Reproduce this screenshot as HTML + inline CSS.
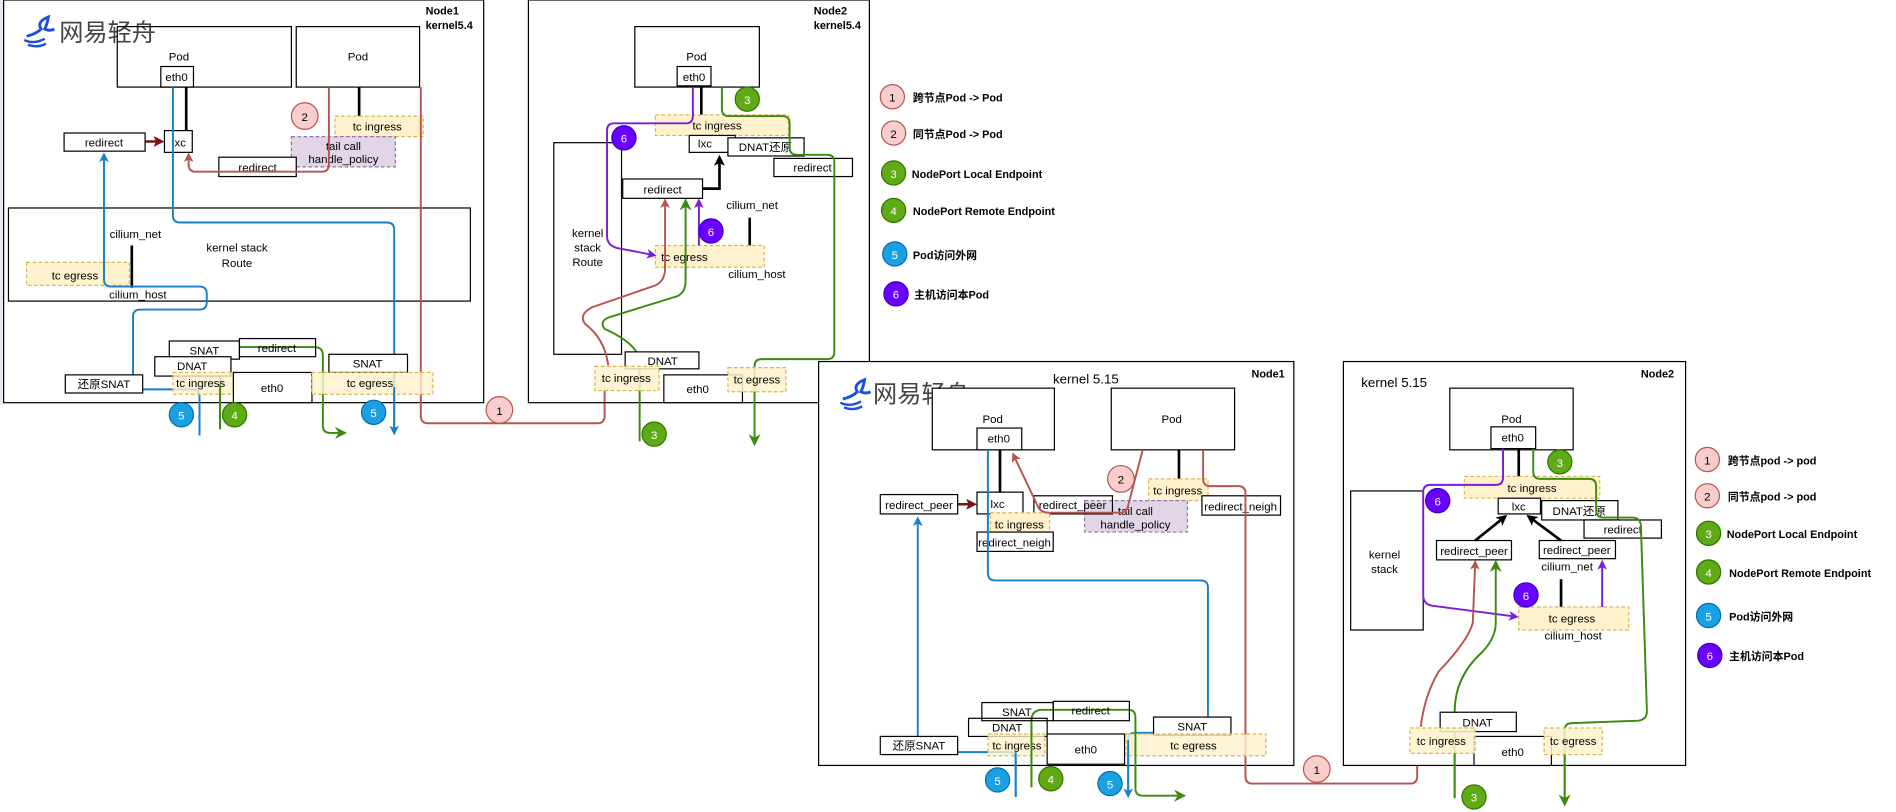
<!DOCTYPE html>
<html><head><meta charset="utf-8"><style>
html,body{margin:0;padding:0;background:#fff;}
svg{display:block;}
text{font-family:"Liberation Sans","Noto Sans CJK SC",sans-serif;fill:#000;}
.b{fill:#fff;stroke:#000;stroke-width:1;}
.nb{fill:none;stroke:#000;stroke-width:1;}
.y{fill:#fff2cc;stroke:#d6b656;stroke-width:1;stroke-dasharray:3 2;}
.p{fill:#e1d5e7;stroke:#9673a6;stroke-width:1;stroke-dasharray:3 2;}
.t{font-size:9.5px;text-anchor:middle;}
.lg{font-size:9px;font-weight:bold;}
.red{fill:none;stroke:#b85450;stroke-width:1.6;}
.blu{fill:none;stroke:#1b7fc4;stroke-width:1.6;}
.grn{fill:none;stroke:#3d8b0e;stroke-width:1.6;}
.pur{fill:none;stroke:#7a1ed6;stroke-width:1.6;}
.blk{fill:none;stroke:#000;stroke-width:2.2;}
</style></head><body>
<svg width="1896" height="812" viewBox="0 0 1568 671.5" preserveAspectRatio="none" xmlns="http://www.w3.org/2000/svg">
<defs>
<marker id="ar" markerWidth="8" markerHeight="8" refX="6" refY="4" orient="auto" markerUnits="userSpaceOnUse"><path d="M0,0 L8,4 L0,8 L2,4z" fill="#b85450"/></marker>
<marker id="ab" markerWidth="8" markerHeight="8" refX="6" refY="4" orient="auto" markerUnits="userSpaceOnUse"><path d="M0,0 L8,4 L0,8 L2,4z" fill="#1b7fc4"/></marker>
<marker id="ag" markerWidth="10" markerHeight="10" refX="8" refY="5" orient="auto" markerUnits="userSpaceOnUse"><path d="M0,0 L10,5 L0,10 L3,5z" fill="#3d8b0e"/></marker>
<marker id="ap" markerWidth="8" markerHeight="8" refX="6" refY="4" orient="auto" markerUnits="userSpaceOnUse"><path d="M0,0 L8,4 L0,8 L2,4z" fill="#7a1ed6"/></marker>
<marker id="ak" markerWidth="9" markerHeight="9" refX="7" refY="4.5" orient="auto" markerUnits="userSpaceOnUse"><path d="M0,0 L9,4.5 L0,9 L2,4.5z" fill="#000"/></marker>
<marker id="adr" markerWidth="9" markerHeight="9" refX="7" refY="4.5" orient="auto" markerUnits="userSpaceOnUse"><path d="M0,0 L9,4.5 L0,9 L2,4.5z" fill="#7a1010"/></marker>
</defs>
<rect x="0" y="0" width="1568" height="671.5" fill="#fff"/>
<rect x="0" y="0" width="3" height="335" fill="#e6eaf0"/>

<!-- ===== TOP NODE1 ===== -->
<rect x="3" y="0" width="397" height="333" class="nb" stroke-width="1.3"/>
<text x="352" y="12" style="font-size:9px;font-weight:bold">Node1</text>
<text x="352" y="24" style="font-size:9px;font-weight:bold">kernel5.4</text>
<g>
<path d="M22,30 q8,-2 12,-6 q-4,-6 6,-10 q-1,6 -3,10 q4,2 8,0" fill="none" stroke="#1a4fe0" stroke-width="2.4"/>
<path d="M20,33 q8,4 17,-1 M23,37 q8,3 15,-1" fill="none" stroke="#1a4fe0" stroke-width="2"/>
<text x="49" y="34" style="font-size:20px;fill:#444">网易轻舟</text>
</g>
<rect x="97" y="22" width="144" height="50" class="b" fill-opacity="0"/>
<text x="148" y="50" class="t">Pod</text>
<rect x="133" y="55" width="27" height="17" class="b"/>
<text x="146" y="67" class="t">eth0</text>
<rect x="245" y="22" width="102" height="50" class="b" fill-opacity="0"/>
<text x="296" y="50" class="t">Pod</text>
<line x1="154" y1="72" x2="154" y2="108" class="blk"/>
<line x1="297" y1="72" x2="297" y2="97" class="blk"/>
<rect x="277" y="96" width="73" height="17" class="y"/>
<text x="312" y="108" class="t">tc ingress</text>
<rect x="241" y="113" width="86" height="25" class="p"/>
<text x="284" y="124" class="t">tail call</text>
<text x="284" y="135" class="t">handle_policy</text>
<rect x="136" y="108" width="23" height="18" class="b"/>
<text x="148" y="121" class="t">lxc</text>
<rect x="53" y="110" width="67" height="15" class="b"/>
<text x="86" y="121" class="t">redirect</text>
<line x1="120" y1="117" x2="134" y2="117" stroke="#7a1010" stroke-width="2" marker-end="url(#adr)"/>
<rect x="181" y="130" width="64" height="16" class="b"/>
<text x="213" y="142" class="t">redirect</text>
<path d="M272,72 L272,136 Q272,142 266,142 L162,142 Q156,142 156,136 L156,128" class="red" marker-end="url(#ar)"/>
<circle cx="252" cy="96" r="11" fill="#f8cecc" stroke="#b85450"/>
<text x="252" y="100" class="t">2</text>

<rect x="7" y="172" width="382" height="77" class="nb"/>
<text x="196" y="208" class="t">kernel stack</text>
<text x="196" y="221" class="t">Route</text>
<text x="112" y="197" class="t">cilium_net</text>
<line x1="109" y1="203" x2="109" y2="238" class="blk"/>
<rect x="22" y="217" width="85" height="19" class="y"/>
<text x="62" y="231" class="t">tc egress</text>
<text x="114" y="247" class="t">cilium_host</text>

<!-- blue -->
<path d="M143,72 L143,178 Q143,184 149,184 L320,184 Q326,184 326,190 L326,358" class="blu" marker-end="url(#ab)"/>
<path d="M86,360 L86,360" class="blu"/>
<path d="M165,360 L165,328 Q165,322 159,322 L116,322 Q110,322 110,316 L110,262 Q110,256 116,256 L165,256 Q171,256 171,250 L171,243 Q171,237 165,237 L92,237 Q86,237 86,231 L86,128" class="blu" marker-end="url(#ab)"/>
<!-- red 1 -->
<path d="M348,72 L348,344 Q348,350 354,350 L494,350 Q500,350 500,344 L500,322" class="red"/>
<!-- green 4 -->
<path d="M182,355 L182,300 Q182,287 195,287 L260,287 Q267,287 267,294 L267,352 Q267,358 273,358 L285,358" class="grn" marker-end="url(#ag)"/>

<rect x="140" y="282" width="58" height="15" class="b"/>
<text x="169" y="293" class="t">SNAT</text>
<rect x="198" y="280" width="63" height="15" class="b" fill-opacity="0"/>
<text x="229" y="291" class="t">redirect</text>
<rect x="128" y="295" width="63" height="16" class="b"/>
<text x="159" y="306" class="t">DNAT</text>
<rect x="272" y="293" width="65" height="15" class="b"/>
<text x="304" y="304" class="t">SNAT</text>
<rect x="54" y="310" width="64" height="15" class="b"/>
<text x="86" y="321" class="t">还原SNAT</text>
<rect x="143" y="308" width="50" height="18" class="y" fill-opacity="0.8"/>
<text x="166" y="320" class="t">tc ingress</text>
<rect x="193" y="308" width="65" height="25" class="b"/>
<text x="225" y="324" class="t">eth0</text>
<rect x="258" y="308" width="100" height="18" class="y" fill-opacity="0.8"/>
<text x="306" y="320" class="t">tc egress</text>
<path d="M165,330 L165,360" class="blu"/>
<path d="M326,320 L326,358" class="blu"/>
<path d="M182,318 L182,355" class="grn"/>
<circle cx="150" cy="343" r="10" fill="#1ba1e2" stroke="#006eaf"/><text x="150" y="347" class="t" style="fill:#fff">5</text>
<circle cx="194" cy="343" r="10" fill="#60a917" stroke="#2d7600"/><text x="194" y="347" class="t" style="fill:#fff">4</text>
<circle cx="309" cy="341" r="10" fill="#1ba1e2" stroke="#006eaf"/><text x="309" y="345" class="t" style="fill:#fff">5</text>
<circle cx="413" cy="339" r="11" fill="#f8cecc" stroke="#b85450"/><text x="413" y="343" class="t">1</text>

<!-- ===== TOP NODE2 ===== -->
<rect x="437" y="0" width="282" height="333" class="nb" stroke-width="1.3"/>
<text x="673" y="12" style="font-size:9px;font-weight:bold">Node2</text>
<text x="673" y="24" style="font-size:9px;font-weight:bold">kernel5.4</text>
<rect x="525" y="22" width="103" height="50" class="b"/>
<text x="576" y="50" class="t">Pod</text>
<rect x="560" y="55" width="28" height="16" class="b"/>
<text x="574" y="67" class="t">eth0</text>
<line x1="580" y1="72" x2="580" y2="96" class="blk"/>
<rect x="458" y="118" width="56" height="175" class="b"/>
<text x="486" y="196" class="t">kernel</text>
<text x="486" y="208" class="t">stack</text>
<text x="486" y="220" class="t">Route</text>
<rect x="542" y="95" width="110" height="17" class="y"/>
<text x="593" y="107" class="t">tc ingress</text>
<rect x="570" y="112" width="38" height="14" class="b"/>
<text x="583" y="122" class="t">lxc</text>
<rect x="602" y="114" width="63" height="15" class="b"/>
<text x="633" y="125" class="t">DNAT还原</text>
<rect x="640" y="131" width="65" height="15" class="b"/>
<text x="672" y="142" class="t">redirect</text>
<rect x="515" y="148" width="66" height="16" class="b"/>
<text x="548" y="160" class="t">redirect</text>
<path d="M581,156 L595,156 L595,130" class="blk" stroke-width="1.6" marker-end="url(#ak)"/>
<text x="622" y="173" class="t">cilium_net</text>
<line x1="620" y1="180" x2="620" y2="204" class="blk"/>
<rect x="542" y="203" width="90" height="18" class="y"/>
<text x="566" y="216" class="t">tc egress</text>
<text x="626" y="230" class="t">cilium_host</text>
<!-- purple -->
<path d="M573,72 L573,96 Q573,102 567,102 L508,102 Q502,102 502,108 L502,195 Q502,203 510,205 L541,211" class="pur" marker-end="url(#ap)"/>
<path d="M578,203 L578,166" class="pur" marker-end="url(#ap)"/>
<!-- red -->
<path d="M503,302 Q500,280 484,268 Q478,260 490,254 L542,236 Q550,232 550,222 L550,166" class="red" marker-end="url(#ar)"/>
<!-- green -->
<path d="M529,365 L529,300 Q529,285 500,272 Q495,265 505,262 L560,245 Q567,242 567,232 L567,166" class="grn" marker-end="url(#ag)"/>
<path d="M597,72 L597,90 Q597,96 603,96 L647,96 Q653,96 653,102 L653,122 Q653,128 659,128 L684,128 Q690,128 690,134 L690,291 Q690,297 684,297 L630,297 Q624,297 624,303 L624,367" class="grn" marker-end="url(#ag)"/>
<rect x="517" y="291" width="61" height="14" class="b"/>
<text x="548" y="302" class="t">DNAT</text>
<rect x="549" y="310" width="65" height="23" class="b"/>
<text x="577" y="325" class="t">eth0</text>
<rect x="492" y="303" width="53" height="20" class="y" fill-opacity="0.85"/>
<text x="518" y="316" class="t">tc ingress</text>
<rect x="602" y="304" width="48" height="20" class="y" fill-opacity="0.85"/>
<text x="626" y="317" class="t">tc egress</text>
<circle cx="618" cy="82" r="10" fill="#60a917" stroke="#2d7600"/><text x="618" y="86" class="t" style="fill:#fff">3</text>
<circle cx="516" cy="114" r="10" fill="#6a00ff" stroke="#3700cc"/><text x="516" y="118" class="t" style="fill:#fff">6</text>
<circle cx="588" cy="191" r="10" fill="#6a00ff" stroke="#3700cc"/><text x="588" y="195" class="t" style="fill:#fff">6</text>
<circle cx="541" cy="359" r="10" fill="#60a917" stroke="#2d7600"/><text x="541" y="363" class="t" style="fill:#fff">3</text>

<!-- legend top -->
<g>
<circle cx="738" cy="80" r="10" fill="#f8cecc" stroke="#b85450"/><text x="738" y="84" class="t">1</text>
<text x="755" y="84" class="lg">跨节点Pod -&gt; Pod</text>
<circle cx="739" cy="110" r="10" fill="#f8cecc" stroke="#b85450"/><text x="739" y="114" class="t">2</text>
<text x="755" y="114" class="lg">同节点Pod -&gt; Pod</text>
<circle cx="739" cy="143" r="10" fill="#60a917" stroke="#2d7600"/><text x="739" y="147" class="t" style="fill:#fff">3</text>
<text x="754" y="147" class="lg">NodePort Local Endpoint</text>
<circle cx="739" cy="174" r="10" fill="#60a917" stroke="#2d7600"/><text x="739" y="178" class="t" style="fill:#fff">4</text>
<text x="755" y="178" class="lg">NodePort Remote Endpoint</text>
<circle cx="740" cy="210" r="10" fill="#1ba1e2" stroke="#006eaf"/><text x="740" y="214" class="t" style="fill:#fff">5</text>
<text x="755" y="214" class="lg">Pod访问外网</text>
<circle cx="741" cy="243" r="10" fill="#6a00ff" stroke="#3700cc"/><text x="741" y="247" class="t" style="fill:#fff">6</text>
<text x="756" y="247" class="lg">主机访问本Pod</text>
</g>

<!-- ===== BOTTOM NODE1 (5.15) ===== -->
<rect x="677" y="299" width="393" height="334" class="b" stroke-width="1.3"/>
<g>
<path d="M697,330 q8,-2 12,-6 q-4,-6 6,-10 q-1,6 -3,10 q4,2 8,0" fill="none" stroke="#1a4fe0" stroke-width="2.4"/>
<path d="M695,333 q8,4 17,-1 M698,337 q8,3 15,-1" fill="none" stroke="#1a4fe0" stroke-width="2"/>
<text x="722" y="333" style="font-size:20px;fill:#444">网易轻舟</text>
</g>
<text x="898" y="317" class="t" style="font-size:11px">kernel 5.15</text>
<text x="1035" y="312" style="font-size:9px;font-weight:bold">Node1</text>
<rect x="771" y="321" width="101" height="51" class="b"/>
<text x="821" y="350" class="t">Pod</text>
<rect x="808" y="354" width="37" height="18" class="b"/>
<text x="826" y="366" class="t">eth0</text>
<rect x="919" y="321" width="102" height="51" class="b"/>
<text x="969" y="350" class="t">Pod</text>
<line x1="827" y1="372" x2="827" y2="407" class="blk"/>
<line x1="975" y1="372" x2="975" y2="396" class="blk"/>
<rect x="950" y="396" width="49" height="18" class="y"/>
<text x="974" y="409" class="t">tc ingress</text>
<rect x="897" y="414" width="85" height="26" class="p"/>
<text x="939" y="426" class="t">tail call</text>
<text x="939" y="437" class="t">handle_policy</text>
<rect x="728" y="409" width="64" height="16" class="b"/>
<text x="760" y="421" class="t">redirect_peer</text>
<line x1="792" y1="417" x2="806" y2="417" stroke="#7a1010" stroke-width="2" marker-end="url(#adr)"/>
<rect x="808" y="407" width="38" height="18" class="b"/>
<text x="825" y="420" class="t">lxc</text>
<rect x="855" y="410" width="65" height="15" class="b" fill-opacity="0"/>
<text x="887" y="421" class="t">redirect_peer</text>
<rect x="994" y="410" width="65" height="16" class="b"/>
<text x="1026" y="422" class="t">redirect_neigh</text>
<rect x="819" y="424" width="49" height="16" class="y"/>
<text x="843" y="437" class="t">tc ingress</text>
<rect x="808" y="440" width="63" height="16" class="b"/>
<text x="839" y="452" class="t">redirect_neigh</text>
<path d="M945,372 L933,418 Q932,424 926,424 L868,424 Q860,424 858,418 L838,376" class="red" marker-end="url(#ar)"/>
<path d="M995,372 L995,396 Q995,402 1001,402 L1024,402 Q1030,402 1030,408 L1030,642 Q1030,648 1036,648 L1166,648 Q1172,648 1172,642 L1172,601" class="red"/>
<path d="M817,372 L817,474 Q817,480 823,480 L993,480 Q999,480 999,486 L999,600 Q999,606 993,606 L939,606 Q933,606 933,612 L933,658" class="blu" marker-end="url(#ab)"/>
<path d="M840,659 L840,628 Q840,622 834,622 L765,622 Q759,622 759,616 L759,429" class="blu" marker-end="url(#ab)"/>
<path d="M853,651 L853,596 Q853,587 862,587 L933,587 Q939,587 939,593 L939,652 Q939,658 945,658 L979,658" class="grn" marker-end="url(#ag)"/>
<rect x="812" y="581" width="59" height="15" class="b" fill-opacity="0"/>
<text x="841" y="592" class="t">SNAT</text>
<rect x="871" y="580" width="63" height="16" class="b" fill-opacity="0"/>
<text x="902" y="591" class="t">redirect</text>
<rect x="801" y="594" width="65" height="15" class="b" fill-opacity="0"/>
<text x="833" y="605" class="t">DNAT</text>
<rect x="954" y="593" width="64" height="15" class="b"/>
<text x="986" y="604" class="t">SNAT</text>
<rect x="728" y="609" width="64" height="15" class="b"/>
<text x="760" y="620" class="t">还原SNAT</text>
<rect x="817" y="607" width="47" height="18" class="y" fill-opacity="0.8"/>
<text x="841" y="620" class="t">tc ingress</text>
<rect x="866" y="607" width="64" height="25" class="b"/>
<text x="898" y="623" class="t">eth0</text>
<rect x="931" y="607" width="116" height="18" class="y" fill-opacity="0.8"/>
<text x="987" y="620" class="t">tc egress</text>
<path d="M933,612 L933,658" class="blu"/>
<path d="M840,622 L840,659" class="blu"/>
<path d="M853,600 L853,651" class="grn"/>
<path d="M939,600 L939,652" class="grn"/>
<circle cx="825" cy="645" r="10" fill="#1ba1e2" stroke="#006eaf"/><text x="825" y="649" class="t" style="fill:#fff">5</text>
<circle cx="869" cy="644" r="10" fill="#60a917" stroke="#2d7600"/><text x="869" y="648" class="t" style="fill:#fff">4</text>
<circle cx="918" cy="648" r="10" fill="#1ba1e2" stroke="#006eaf"/><text x="918" y="652" class="t" style="fill:#fff">5</text>
<circle cx="1089" cy="636" r="11" fill="#f8cecc" stroke="#b85450"/><text x="1089" y="640" class="t">1</text>
<circle cx="927" cy="396" r="11" fill="#f8cecc" stroke="#b85450"/><text x="927" y="400" class="t">2</text>

<!-- ===== BOTTOM NODE2 (5.15) ===== -->
<rect x="1111" y="299" width="283" height="334" class="b" stroke-width="1.3"/>
<text x="1153" y="320" class="t" style="font-size:11px">kernel 5.15</text>
<text x="1357" y="312" style="font-size:9px;font-weight:bold">Node2</text>
<rect x="1199" y="321" width="102" height="51" class="b"/>
<text x="1250" y="350" class="t">Pod</text>
<rect x="1233" y="353" width="37" height="18" class="b"/>
<text x="1251" y="365" class="t">eth0</text>
<line x1="1256" y1="371" x2="1256" y2="394" class="blk"/>
<rect x="1117" y="406" width="60" height="115" class="b"/>
<text x="1145" y="462" class="t">kernel</text>
<text x="1145" y="474" class="t">stack</text>
<rect x="1211" y="394" width="112" height="18" class="y"/>
<text x="1267" y="407" class="t">tc ingress</text>
<rect x="1239" y="412" width="35" height="13" class="b"/>
<text x="1256" y="422" class="t">lxc</text>
<rect x="1275" y="414" width="63" height="16" class="b"/>
<text x="1306" y="426" class="t">DNAT还原</text>
<rect x="1310" y="430" width="64" height="15" class="b"/>
<text x="1342" y="441" class="t">redirect</text>
<rect x="1188" y="447" width="62" height="16" class="b"/>
<text x="1219" y="459" class="t">redirect_peer</text>
<rect x="1273" y="447" width="63" height="15" class="b"/>
<text x="1304" y="458" class="t">redirect_peer</text>
<line x1="1220" y1="447" x2="1245" y2="427" class="blk" stroke-width="1.6" marker-end="url(#ak)"/>
<line x1="1291" y1="447" x2="1264" y2="427" class="blk" stroke-width="1.6" marker-end="url(#ak)"/>
<text x="1296" y="472" class="t">cilium_net</text>
<line x1="1291" y1="479" x2="1291" y2="502" class="blk"/>
<rect x="1256" y="502" width="91" height="19" class="y"/>
<text x="1300" y="515" class="t">tc egress</text>
<text x="1301" y="529" class="t">cilium_host</text>
<path d="M1243,371 L1243,395 Q1243,401 1237,401 L1183,401 Q1177,401 1177,407 L1177,492 Q1177,500 1185,501 L1254,510" class="pur" marker-end="url(#ap)"/>
<path d="M1325,502 L1325,465" class="pur" marker-end="url(#ap)"/>
<path d="M1175,601 Q1178,575 1190,555 Q1214,530 1218,515 L1220,465" class="red" marker-end="url(#ar)"/>
<path d="M1203,660 L1203,589 Q1203,560 1225,540 Q1237,528 1237,515 L1237,465" class="grn" marker-end="url(#ag)"/>
<path d="M1268,371 L1268,390 Q1268,396 1274,396 L1314,396 Q1320,396 1320,402 L1320,422 Q1320,428 1326,428 L1350,428 Q1356,428 1357,434 L1362,588 Q1362,595 1355,596 L1300,598 Q1294,598 1294,604 L1294,665" class="grn" marker-end="url(#ag)"/>
<rect x="1191" y="589" width="63" height="16" class="b"/>
<text x="1222" y="601" class="t">DNAT</text>
<rect x="1219" y="609" width="64" height="24" class="b"/>
<text x="1251" y="625" class="t">eth0</text>
<rect x="1166" y="602" width="54" height="21" class="y" fill-opacity="0.85"/>
<text x="1192" y="616" class="t">tc ingress</text>
<rect x="1277" y="602" width="48" height="22" class="y" fill-opacity="0.85"/>
<text x="1301" y="616" class="t">tc egress</text>
<path d="M1203,623 L1203,660" class="grn"/>
<path d="M1294,624 L1294,665" class="grn"/>
<circle cx="1290" cy="382" r="10" fill="#60a917" stroke="#2d7600"/><text x="1290" y="386" class="t" style="fill:#fff">3</text>
<circle cx="1189" cy="414" r="10" fill="#6a00ff" stroke="#3700cc"/><text x="1189" y="418" class="t" style="fill:#fff">6</text>
<circle cx="1262" cy="492" r="10" fill="#6a00ff" stroke="#3700cc"/><text x="1262" y="496" class="t" style="fill:#fff">6</text>
<circle cx="1219" cy="659" r="10" fill="#60a917" stroke="#2d7600"/><text x="1219" y="663" class="t" style="fill:#fff">3</text>

<!-- legend bottom -->
<g>
<circle cx="1412" cy="380" r="10" fill="#f8cecc" stroke="#b85450"/><text x="1412" y="384" class="t">1</text>
<text x="1429" y="384" class="lg">跨节点pod -&gt; pod</text>
<circle cx="1412" cy="410" r="10" fill="#f8cecc" stroke="#b85450"/><text x="1412" y="414" class="t">2</text>
<text x="1429" y="414" class="lg">同节点pod -&gt; pod</text>
<circle cx="1413" cy="441" r="10" fill="#60a917" stroke="#2d7600"/><text x="1413" y="445" class="t" style="fill:#fff">3</text>
<text x="1428" y="445" class="lg">NodePort Local Endpoint</text>
<circle cx="1413" cy="473" r="10" fill="#60a917" stroke="#2d7600"/><text x="1413" y="477" class="t" style="fill:#fff">4</text>
<text x="1430" y="477" class="lg">NodePort Remote Endpoint</text>
<circle cx="1413" cy="509" r="10" fill="#1ba1e2" stroke="#006eaf"/><text x="1413" y="513" class="t" style="fill:#fff">5</text>
<text x="1430" y="513" class="lg">Pod访问外网</text>
<circle cx="1414" cy="542" r="10" fill="#6a00ff" stroke="#3700cc"/><text x="1414" y="546" class="t" style="fill:#fff">6</text>
<text x="1430" y="546" class="lg">主机访问本Pod</text>
</g>
</svg>
</body></html>
